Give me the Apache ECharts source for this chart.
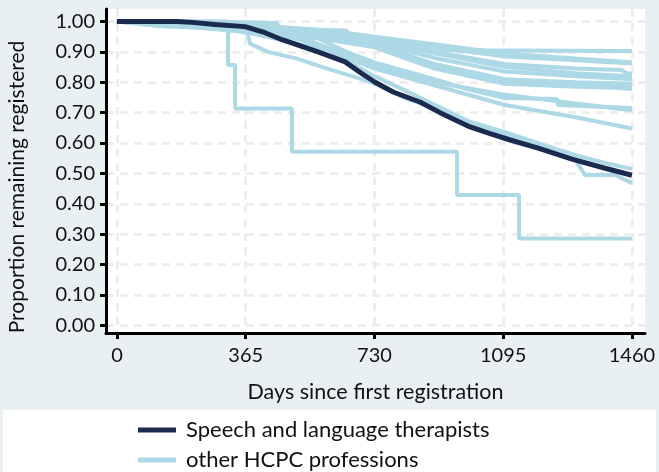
<!DOCTYPE html>
<html>
<head>
<meta charset="utf-8">
<script src="https://cdn.jsdelivr.net/npm/echarts@6/dist/echarts.min.js"></script>
<style>
  html, body { margin: 0; padding: 0; background: #e9f0f2; }
  #main { width: 659px; height: 472px; }
</style>
</head>
<body>
<div id="main"></div>
<script>
// tick positions
var xTicks = [0, 365, 730, 1095, 1460];
var yTicks = [0, 0.1, 0.2, 0.3, 0.4, 0.5, 0.6, 0.7, 0.8, 0.9, 1];

// speech and language therapists: [days, proportion]
var slt = [[0,1],[170,1],[213,0.997],[278,0.99],[363,0.983],[420,0.963],[468,0.94],[520,0.92],[570,0.9],[647,0.867],[695,0.828],[732,0.8],[783,0.768],[859,0.735],[916,0.7],[1001,0.653],[1060,0.63],[1115,0.61],[1194,0.583],[1290,0.547],[1384,0.517],[1460,0.494]];

// other HCPC professions, one curve each
var prof01 = [[0,1],[250,1],[454,0.995],[460,0.975],[652,0.97],[655,0.955],[800,0.935],[936,0.905],[1460,0.903]];
var prof02 = [[0,1],[150,0.995],[365,0.985],[550,0.965],[730,0.945],[900,0.915],[1100,0.885],[1300,0.872],[1460,0.862]];
var prof03 = [[0,1],[200,0.998],[365,0.99],[600,0.96],[730,0.94],[900,0.9],[1100,0.86],[1300,0.845],[1430,0.84],[1445,0.83],[1460,0.829]];
var prof04 = [[0,1],[120,0.99],[365,0.98],[600,0.955],[730,0.93],[900,0.88],[1100,0.835],[1300,0.82],[1460,0.81]];
var prof05 = [[0,1],[130,0.99],[365,0.975],[600,0.945],[730,0.925],[900,0.86],[1100,0.81],[1300,0.8],[1460,0.795]];
var prof06 = [[0,1],[150,0.992],[365,0.978],[600,0.945],[730,0.92],[900,0.85],[1100,0.8],[1300,0.792],[1460,0.785]];
var prof07 = [[0,1],[120,0.99],[365,0.975],[600,0.94],[730,0.915],[900,0.845],[1100,0.795],[1300,0.785],[1410,0.782],[1460,0.778]];
var prof08 = [[0,1],[365,0.98],[600,0.95],[730,0.935],[900,0.895],[1100,0.85],[1300,0.83],[1460,0.82]];
var prof09 = [[0,1],[200,0.99],[365,0.97],[570,0.945],[650,0.9],[730,0.865],[900,0.81],[1000,0.775],[1100,0.748],[1248,0.745],[1250,0.725],[1460,0.715]];
var prof10 = [[0,1],[180,0.99],[365,0.97],[550,0.935],[730,0.855],[900,0.8],[1095,0.76],[1300,0.73],[1460,0.708]];
var prof11 = [[0,1],[150,0.988],[365,0.965],[600,0.905],[730,0.845],[900,0.79],[1100,0.725],[1300,0.685],[1460,0.648]];
var prof12 = [[0,1],[120,0.985],[365,0.975],[500,0.95],[600,0.905],[730,0.82],[850,0.755],[1000,0.67],[1100,0.636],[1194,0.6],[1300,0.56],[1400,0.53],[1460,0.515]];
var prof13 = [[0,1],[122,0.985],[329,0.975],[371,0.96],[377,0.927],[428,0.9],[513,0.877],[598,0.844],[695,0.81],[732,0.795],[822,0.745],[916,0.71],[1001,0.662],[1100,0.625],[1194,0.59],[1299,0.545],[1327,0.495],[1412,0.495],[1460,0.468]];
var prof14 = [[0,1],[315,0.857],[335,0.714],[496,0.571],[964,0.429],[1140,0.286],[1460,0.286]];
var prof15 = [[0,1],[250,0.995],[365,0.99],[600,0.97],[730,0.95],[900,0.925],[1100,0.895],[1300,0.878],[1460,0.866]];

var others = [prof01, prof02, prof03, prof04, prof05, prof06, prof07, prof08, prof09, prof10, prof11, prof12, prof13, prof15];
var stepped = [prof14];

var FONT = 'Lato';
var NAVY = '#1b2a4f';
var LTBLUE = '#add8e6';
var chart = echarts.init(document.getElementById('main'));

var series = [];
others.forEach(function (d) {
    series.push({
        name: 'other HCPC professions',
        type: 'line',
        data: d,
        showSymbol: false,
        lineStyle: { color: LTBLUE, width: 4 },
        itemStyle: { color: LTBLUE },
        z: 2
    });
});
stepped.forEach(function (d) {
    series.push({
        name: 'other HCPC professions',
        type: 'line',
        step: 'end',
        data: d,
        showSymbol: false,
        lineStyle: { color: LTBLUE, width: 4 },
        itemStyle: { color: LTBLUE },
        z: 2
    });
});
series.push({
    name: 'Speech and language therapists',
    type: 'line',
    data: slt,
    showSymbol: false,
    lineStyle: { color: NAVY, width: 5 },
    itemStyle: { color: NAVY },
    z: 3
});

function legendBox(name, top) {
    return {
        data: [name],
        left: 138, top: top,
        padding: 0,
        icon: 'rect',
        itemWidth: 38, itemHeight: 5,
        textStyle: { fontFamily: FONT, fontSize: 22, color: '#111', lineHeight: 26, padding: [0, 0, 0, 5] }
    };
}

var option = {
    backgroundColor: '#e9f0f2',
    animation: false,
    grid: {
        left: 106, right: 14, top: 9, bottom: 139,
        show: true, backgroundColor: '#ffffff', borderWidth: 0
    },
    xAxis: {
        type: 'value',
        min: -31, max: 1497,
        name: 'Days since first registration',
        nameLocation: 'middle',
        nameGap: 48,
        nameTextStyle: { fontFamily: FONT, fontSize: 21.5, color: '#111' },
        axisLine: { onZero: false, lineStyle: { color: '#000', width: 3 } },
        axisTick: { customValues: xTicks, length: 6, lineStyle: { color: '#000', width: 3 } },
        axisLabel: {
            customValues: xTicks, margin: 13, fontFamily: FONT, fontSize: 20, color: '#111',
            formatter: function (v) { return String(v); }
        },
        splitLine: { show: true, lineStyle: { color: '#eeeeee', width: 3, type: [8, 6] } }
    },
    yAxis: {
        type: 'value',
        min: -0.025, max: 1.041,
        axisLine: { onZero: false, lineStyle: { color: '#000', width: 3 } },
        axisTick: { customValues: yTicks, length: 6, lineStyle: { color: '#000', width: 3 } },
        axisLabel: {
            customValues: yTicks, margin: 11, fontFamily: FONT, fontSize: 20, color: '#111',
            formatter: function (v) { return v.toFixed(2); }
        },
        splitLine: { show: true, lineStyle: { color: '#eeeeee', width: 3, type: [8, 6] } }
    },
    legend: [
        legendBox('Speech and language therapists', 417),
        legendBox('other HCPC professions', 447)
    ],
    graphic: [
        { type: 'rect', left: 3, top: 410, shape: { width: 653, height: 70 }, style: { fill: '#ffffff' } },
        {
            type: 'text', x: 17, y: 187, rotation: Math.PI / 2,
            style: {
                text: 'Proportion remaining registered', fontFamily: FONT, fontSize: 21,
                fill: '#111', align: 'center', verticalAlign: 'middle'
            }
        }
    ],
    series: series
};
chart.setOption(option);
</script>
</body>
</html>
